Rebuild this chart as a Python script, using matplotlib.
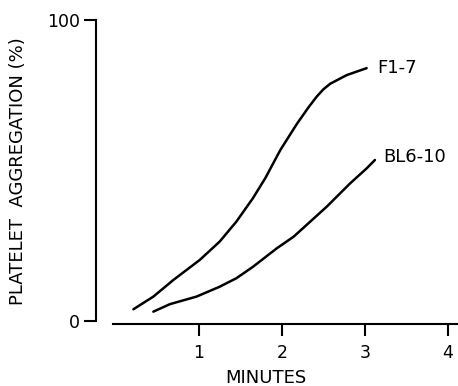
import matplotlib
matplotlib.use("Agg")
import matplotlib.pyplot as plt

# Data (minutes, % aggregation)
f17_t = [0.21, 0.45, 0.69, 1.01, 1.25, 1.45, 1.65, 1.80, 1.98, 2.18, 2.32, 2.42, 2.50, 2.58, 2.78, 3.02]
f17_y = [3.9, 8.1, 13.6, 20.3, 26.4, 33.0, 40.8, 47.5, 56.8, 65.5, 71.0, 74.6, 77.0, 78.8, 81.7, 84.0]
bl6_t = [0.45, 0.65, 0.97, 1.25, 1.45, 1.65, 1.94, 2.14, 2.54, 2.82, 3.02, 3.12]
bl6_y = [3.1, 5.6, 8.1, 11.4, 14.2, 18.0, 24.2, 28.0, 38.0, 45.7, 50.7, 53.5]

x_ticks = [1, 2, 3, 4]
y_ticks = [0, 100]
series_labels = ["F1-7", "BL6-10"]

fig = plt.figure(figsize=(4.58, 3.86), dpi=100)
ax = fig.add_axes([0.1445, 0.12161, 0.8608, 0.87337])
ax.set_xlim(-0.6, 4.15)
ax.set_ylim(-6, 106)

lw = 1.8
ax.plot(f17_t, f17_y, color="black", lw=lw, solid_capstyle="round", solid_joinstyle="round")
ax.plot(bl6_t, bl6_y, color="black", lw=lw, solid_capstyle="round", solid_joinstyle="round")

ax.text(3.145, 84.0, series_labels[0], ha="left", va="center", fontsize=13)
ax.text(3.217, 54.6, series_labels[1], ha="left", va="center", fontsize=13)

for s in ["top", "right"]:
    ax.spines[s].set_visible(False)
ax.spines["left"].set_position(("data", -0.24))
ax.spines["left"].set_bounds(0, 100)
ax.spines["bottom"].set_position(("data", -1.0))
ax.spines["bottom"].set_bounds(-0.04, 4.15)
for s in ["left", "bottom"]:
    ax.spines[s].set_linewidth(1.5)

ax.set_xticks(x_ticks)
ax.set_xticklabels([str(v) for v in x_ticks])
ax.set_yticks(y_ticks)
ax.set_yticklabels([str(v) for v in y_ticks])
ax.tick_params(axis="both", direction="out", length=8.3, width=1.5, labelsize=12.5)
ax.tick_params(axis="x", pad=6)
ax.tick_params(axis="y", pad=3)

fig.text(266 / 458, 1 - 378 / 386, "MINUTES", ha="center", va="center", fontsize=13)
fig.text(18.5 / 458, 1 - 171 / 386, "PLATELET  AGGREGATION (%)", ha="center", va="center",
         rotation=90, fontsize=13)

fig.savefig("out.png", dpi=100)
